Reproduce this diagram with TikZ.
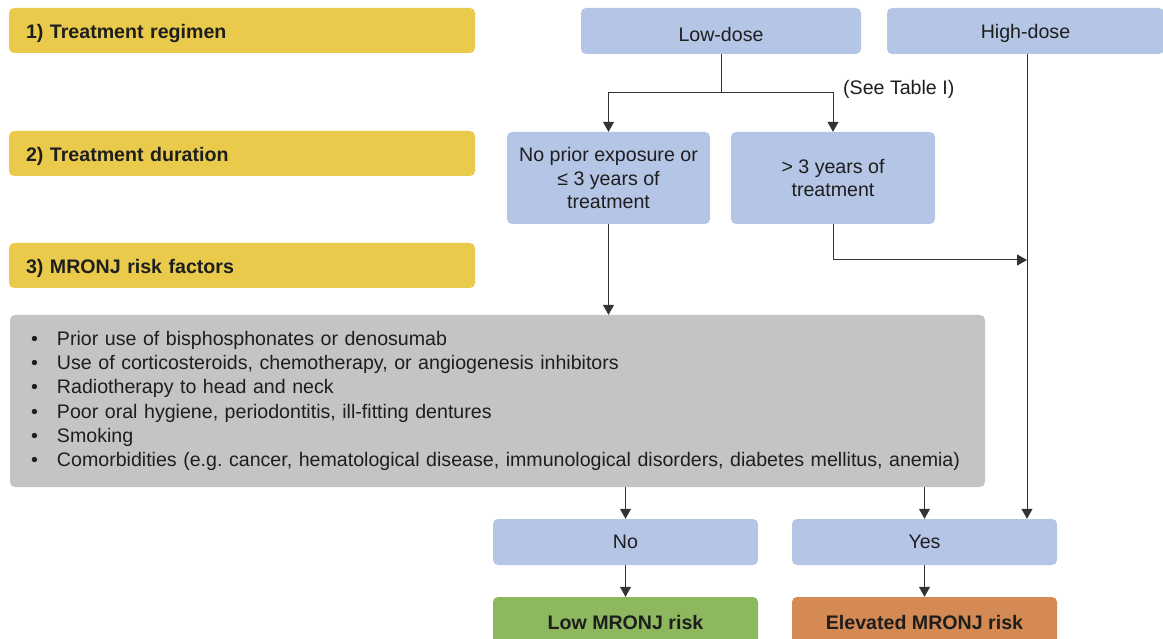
\documentclass[tikz,border=0pt]{standalone}
\usepackage{fontspec}
\setmainfont{Liberation Sans}
\usetikzlibrary{arrows.meta}
\definecolor{yel}{HTML}{E9CA4B}
\definecolor{blu}{HTML}{B4C5E6}
\definecolor{gry}{HTML}{C4C4C4}
\definecolor{grn}{HTML}{8DB85E}
\definecolor{org}{HTML}{D48A52}
\definecolor{lc}{HTML}{333333}
\definecolor{tc}{HTML}{1E1E1E}
\newcommand{\lowr}[2]{\raisebox{-#1}[\height][\depth]{#2}}
\newcommand{\itm}{\makebox[29.5pt][l]{\hspace{3.5pt}•}}
\frenchspacing
\begin{document}
\begin{tikzpicture}[x=1pt,y=-1pt,
  box/.style={rounded corners=5pt, inner sep=0pt, text=tc, align=center,
    font=\fontsize{19.6}{23.5}\selectfont},
  ybox/.style={box, fill=yel, minimum width=466pt, minimum height=45pt,
    text width=432pt, align=left, font=\bfseries\fontsize{19.6}{22}\selectfont},
  bbox/.style={box, fill=blu},
  rbox/.style={box, font=\bfseries\fontsize{19.6}{22}\selectfont},
  arr/.style={draw=lc, line width=1pt, -{Triangle[length=10pt,width=11pt]}}]
\useasboundingbox (0,0) rectangle (1163,639);
% left stage labels
\node[ybox] (y1) at (242,30.5) {\lowr{2.5pt}{1) Treatment regimen}};
\node[ybox] (y2) at (242,153.5) {\lowr{2.5pt}{2) Treatment duration}};
\node[ybox] (y3) at (242,265.5) {\lowr{2.5pt}{3) MRONJ risk factors}};
% regimen
\node[bbox, minimum width=280pt, minimum height=46pt] (low) at (721,31) {\lowr{3pt}{Low-dose}};
\node[bbox, minimum width=277pt, minimum height=46pt] (high) at (1025.5,31) {\lowr{2pt}{High-dose}};
% duration
\node[bbox, minimum width=203pt, minimum height=92pt] (np) at (608.5,178)
  {No prior exposure or\\ ≤ 3 years of\\ treatment};
\node[bbox, minimum width=204pt, minimum height=92pt] (gt) at (833,178)
  {> 3 years of\\ treatment};
\node[anchor=west, inner sep=0pt, text=tc, font=\fontsize{19.6}{22}\selectfont] (see) at (843,89) {(See Table I)};
% risk factors
\node[box, fill=gry, minimum width=975pt, minimum height=172pt, text width=940pt,
  align=left, font=\fontsize{19.6}{24.2}\selectfont] (gray) at (497.5,401)
  {\itm Prior use of bisphosphonates or denosumab\\
   \itm Use of corticosteroids, chemotherapy, or angiogenesis inhibitors\\
   \itm Radiotherapy to head and neck\\
   \itm Poor oral hygiene, periodontitis, ill-fitting dentures\\
   \itm Smoking\\
   \itm Comorbidities (e.g. cancer, hematological disease, immunological disorders, diabetes mellitus, anemia)};
% answers
\node[bbox, minimum width=265pt, minimum height=46pt] (no) at (625.5,542) {No};
\node[bbox, minimum width=265pt, minimum height=46pt] (yes) at (924.5,542) {Yes};
\node[rbox, fill=grn, minimum width=265pt, minimum height=50pt] (lr) at (625.5,622) {Low MRONJ risk};
\node[rbox, fill=org, minimum width=265pt, minimum height=50pt] (er) at (924.5,622) {Elevated MRONJ risk};
% connectors
\coordinate (bj) at (721,93);
\coordinate (hx) at (1027,260);
\draw[arr] (low.south) -- (bj) -| (np.north);
\draw[arr] (bj) -| (gt.north);
\draw[arr] (high.south -| hx) -- (yes.north -| hx);
\draw[arr] (gt.south) |- (hx);
\draw[arr] (np.south) -- (np.south |- gray.north);
\draw[arr] (gray.south -| no.north) -- (no.north);
\draw[arr] (gray.south -| yes.north) -- (yes.north);
\draw[arr] (no.south) -- (lr.north);
\draw[arr] (yes.south) -- (er.north);
\end{tikzpicture}
\end{document}
